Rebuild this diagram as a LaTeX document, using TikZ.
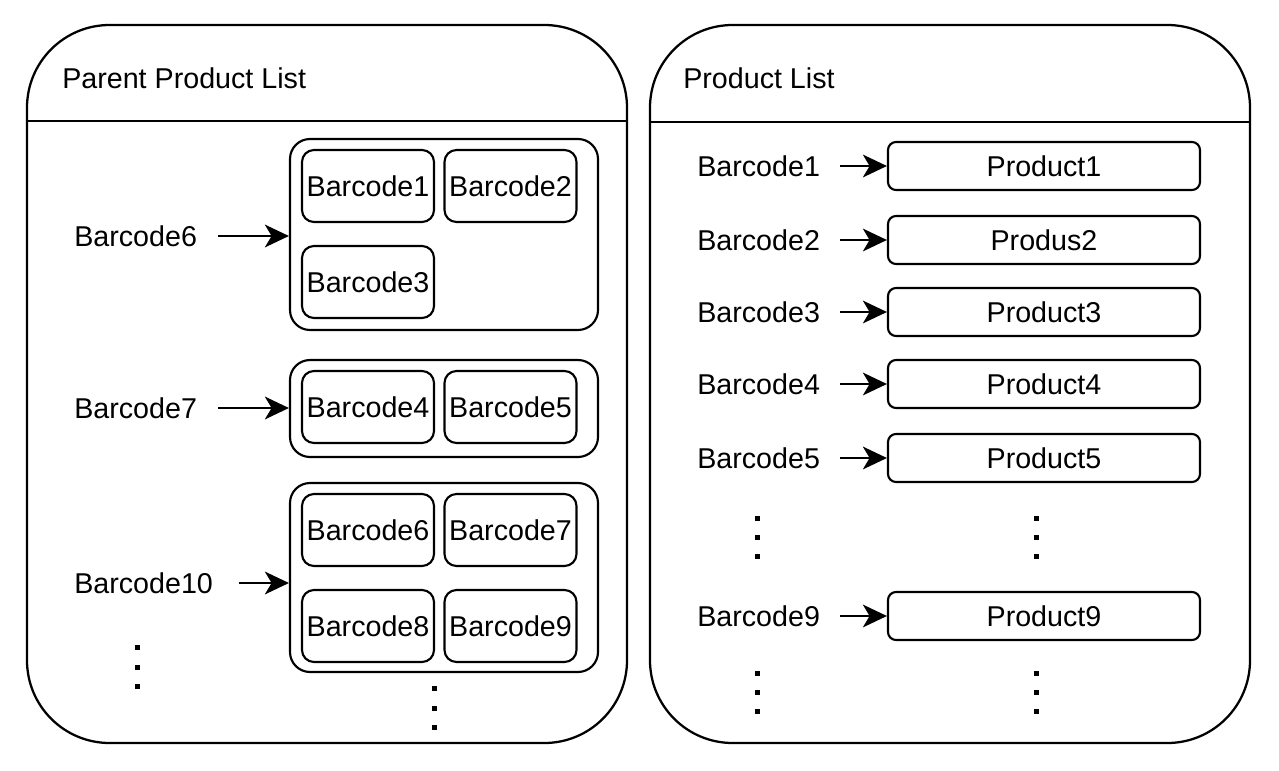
\documentclass[tikz,border=0pt]{standalone}
\usepackage{fontspec}
\setmainfont{Liberation Sans}
\usetikzlibrary{arrows.meta}
\begin{document}
\begin{tikzpicture}[x=0.75pt,y=-0.75pt,
  every node/.style={font=\fontsize{21.5pt}{26pt}\selectfont},
  panel/.style={draw,line width=1.7pt,rounded corners=62pt,minimum width=450pt,minimum height=538.5pt,inner sep=0},
  grp/.style={draw,line width=1.6pt,rounded corners=15pt,minimum width=231pt,inner sep=0},
  cell/.style={draw,line width=1.6pt,rounded corners=9pt,minimum width=99pt,minimum height=54pt,inner sep=0},
  prod/.style={draw,line width=1.6pt,rounded corners=6pt,minimum width=234pt,minimum height=36pt,inner sep=0},
  lab/.style={anchor=west,inner sep=0},
  arr/.style={-{Stealth[length=18pt,width=17pt,inset=5pt]},line width=1.8pt},
  dot/.style={fill=black}]
\useasboundingbox (0,0) rectangle (1279,771);
% panels
\node[panel] (L) at (327,384) {};
\node[panel] (R) at (950,384) {};
\draw[line width=1.7pt] (L.west |- 0,121) -- (L.east |- 0,121);
\draw[line width=1.7pt] (R.west |- 0,122) -- (R.east |- 0,122);
\node[lab] (tL) at (62,78) {Parent Product List};
\node[lab] (tR) at (683,78) {Product List};
% left groups
\node[grp,minimum height=143.25pt] (g1) at (444,234.5) {};
\node[grp,minimum height=72.75pt] (g2) at (444,408.5) {};
\node[grp,minimum height=141.75pt] (g3) at (444,577.5) {};
\node[cell] (c1) at (368,186) {Barcode1};
\node[cell] (c2) at (510.5,186) {Barcode2};
\node[cell] (c3) at (368,282) {Barcode3};
\node[cell] (c4) at (368,407) {Barcode4};
\node[cell] (c5) at (510.5,407) {Barcode5};
\node[cell] (c6) at (368,530) {Barcode6};
\node[cell] (c7) at (510.5,530) {Barcode7};
\node[cell] (c8) at (368,626) {Barcode8};
\node[cell] (c9) at (510.5,626) {Barcode9};
\node[lab] (k6) at (74,236) {Barcode6};
\node[lab] (k7) at (74,408) {Barcode7};
\node[lab] (k10) at (74,583) {Barcode10};
\draw[arr] ([xshift=15.75pt]k6.east) -- (g1.west |- k6.east);
\draw[arr] ([xshift=15.75pt]k7.east) -- (g2.west |- k7.east);
\draw[arr] ([xshift=19.5pt]k10.east) -- (g3.west |- k10.east);
% left dots
\foreach \y in {647,667,686} \fill[dot] (134.5,\y-2.5) rectangle ++(5,5);
\foreach \y in {688,708,727} \fill[dot] (431.5,\y-2.5) rectangle ++(5,5);
% right rows
\foreach \i/\y/\t in {1/166/Product1,2/240/Produs2,3/312/Product3,4/384/Product4,5/458/Product5,9/616/Product9}{
  \node[prod] (p\i) at (1044,\y) {\t};
  \node[lab] (b\i) at (697,\y) {Barcode\i};
  \draw[arr] ([xshift=15pt]b\i.east) -- (p\i.west);
}
% right dots
\foreach \y in {518,537,556,673,692,711}{
  \fill[dot] (754.5,\y-2.5) rectangle ++(5,5);
  \fill[dot] (1034,\y-2.5) rectangle ++(5,5);
}
\end{tikzpicture}
\end{document}
